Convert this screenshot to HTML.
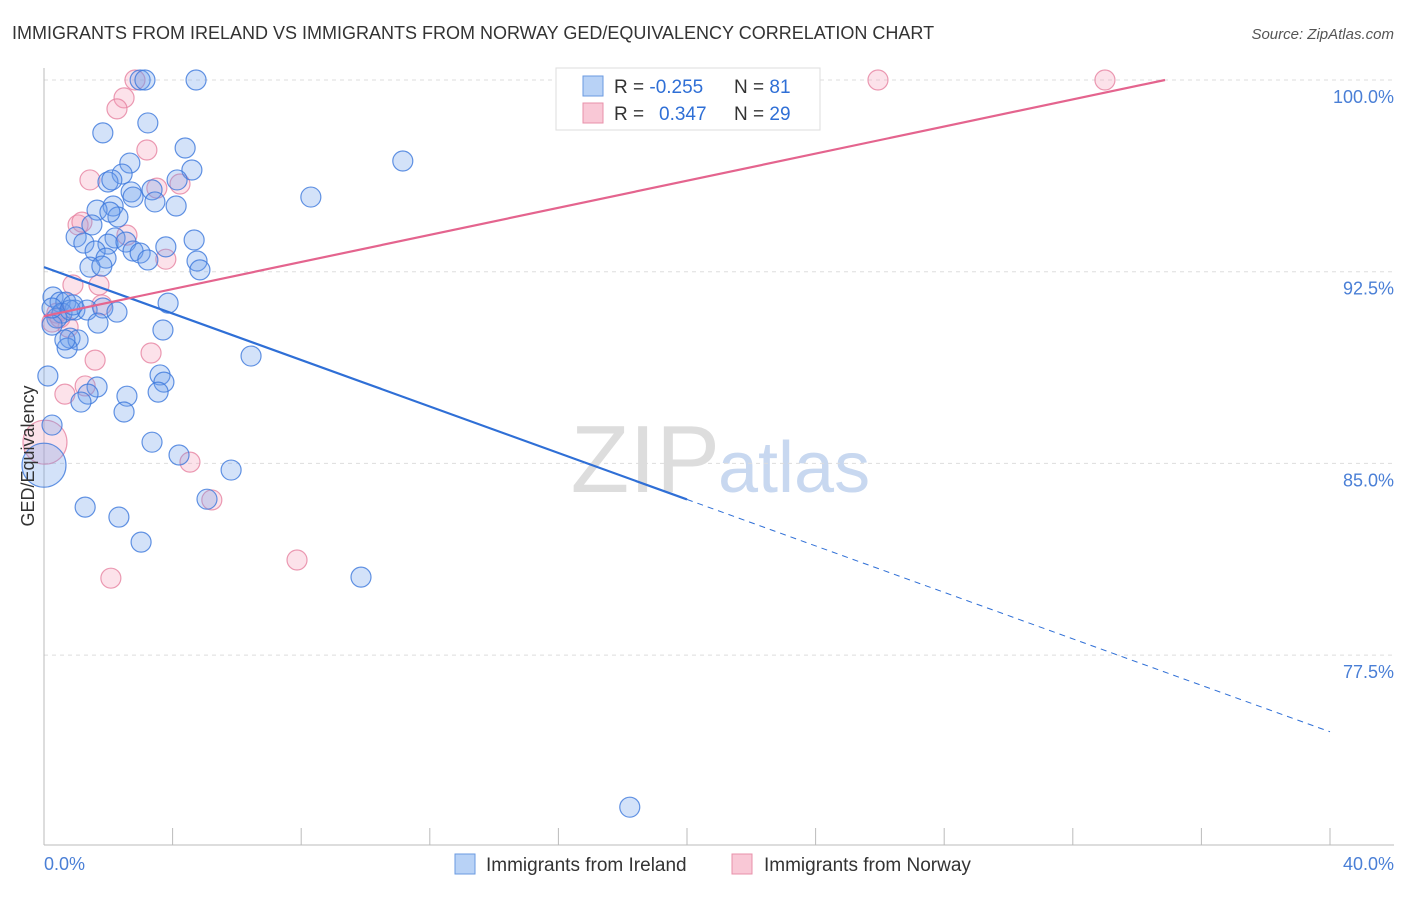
<!DOCTYPE html>
<html><head><meta charset="utf-8"><style>
body{margin:0;background:#fff;font-family:"Liberation Sans",sans-serif;}
svg text{font-family:"Liberation Sans",sans-serif;}
</style></head><body>
<svg id="c" width="1406" height="892">
<text x="12" y="39" font-size="18" fill="#333">IMMIGRANTS FROM IRELAND VS IMMIGRANTS FROM NORWAY GED/EQUIVALENCY CORRELATION CHART</text>
<text x="1394" y="39" font-size="15" fill="#555" font-style="italic" text-anchor="end">Source: ZipAtlas.com</text>
<text x="720" y="492" font-size="96" fill="#ddd" text-anchor="end" font-family="Liberation Serif">ZIP</text>
<text x="718" y="492" font-size="72" fill="#c8d8f0">atlas</text>
<g id="grid"></g>
<g id="axes"></g>
<g id="pts"></g>
<g id="lines"></g>
<text x="34" y="456" font-size="18" fill="#333" transform="rotate(-90 34 456)" text-anchor="middle">GED/Equivalency</text>
<text x="44" y="870" font-size="18" fill="#4a7fd6">0.0%</text>
<text x="1394" y="870" font-size="18" fill="#4a7fd6" text-anchor="end">40.0%</text>
<g>
<rect x="556" y="68" width="264" height="62" fill="#fff" stroke="#ddd"/>
<rect x="583" y="76" width="20" height="20" fill="#b8d2f6" stroke="#6a9ae0"/>
<rect x="583" y="103" width="20" height="20" fill="#f9c8d6" stroke="#e890aa"/>
<text x="614" y="93" font-size="19" fill="#333">R = <tspan fill="#2f6fd6">-0.255</tspan><tspan x="734">N = </tspan><tspan fill="#2f6fd6">81</tspan></text>
<text x="614" y="120" font-size="19" fill="#333">R = <tspan fill="#2f6fd6" x="659">0.347</tspan><tspan x="734">N = </tspan><tspan fill="#2f6fd6">29</tspan></text>
</g>
<g>
<rect x="455" y="854" width="20" height="20" fill="#b8d2f6" stroke="#6a9ae0"/>
<text x="486" y="871" font-size="19" fill="#333">Immigrants from Ireland</text>
<rect x="732" y="854" width="20" height="20" fill="#f9c8d6" stroke="#e890aa"/>
<text x="764" y="871" font-size="19" fill="#333">Immigrants from Norway</text>
</g>
</svg>
<script>
const yTicks=[100,92.5,85,77.5];
const yTickLabels=["100.0%","92.5%","85.0%","77.5%"];
const xTicks=[0,4,8,12,16,20,24,28,32,36,40];
const blueX=[2.99,3.14,4.73,3.23,1.83,4.39,2.67,11.16,2.43,4.60,1.99,2.11,4.14,2.71,3.36,2.77,3.45,8.30,4.11,2.15,1.65,2.30,1.49,1.00,2.21,1.24,1.99,2.55,2.77,1.59,2.99,3.79,4.67,1.93,3.23,1.43,1.80,4.76,4.85,0.28,0.50,0.68,0.96,1.34,1.83,2.27,3.86,0.56,0.40,1.68,3.70,0.25,0.81,1.06,0.72,6.44,0.12,3.61,3.73,1.65,1.37,1.15,3.55,2.58,2.49,0.25,3.36,4.20,5.82,5.07,1.28,2.33,3.02,9.86,18.22,0,0.25,0.81,0.65,2.05,0.9];
const blueY=[100,100,100,98.32,97.93,97.34,96.75,96.83,96.32,96.48,96.01,96.09,96.09,95.62,95.70,95.42,95.23,95.42,95.07,95.07,94.91,94.64,94.33,93.86,93.82,93.62,93.58,93.66,93.31,93.31,93.23,93.47,93.74,93.03,92.96,92.68,92.72,92.92,92.57,91.51,91.31,91.31,91.00,91.00,91.08,90.92,91.27,90.88,90.69,90.49,90.22,90.41,89.90,89.83,89.51,89.20,88.42,88.46,88.18,87.99,87.71,87.40,87.79,87.63,87.01,86.50,85.83,85.33,84.74,83.60,83.29,82.90,81.92,80.55,71.55,84.93,91.08,91.00,89.83,94.83,91.2];
const pinkX=[2.83,25.94,33.0,2.49,2.27,3.20,1.43,3.51,4.23,1.06,1.18,2.58,3.79,0.90,1.71,1.80,0.75,0.40,0.25,1.59,3.33,1.28,0.65,4.54,5.22,7.87,2.08,0.03,0.5];
const pinkY=[100,100,100,99.30,98.87,97.26,96.09,95.77,95.93,94.33,94.44,93.93,92.99,91.98,91.98,91.20,90.33,90.88,90.53,89.04,89.32,88.03,87.71,85.05,83.57,81.22,80.51,85.83,90.7];
const blueLine=[92.68,-0.4545];
const pinkLine=[90.76,0.265];
const NS="http://www.w3.org/2000/svg";
const X=v=>44+v/40*1286;
const Y=v=>80+(100-v)/7.5*191.7;
function mk(t,a,p){const e=document.createElementNS(NS,t);for(const k in a)e.setAttribute(k,a[k]);document.getElementById(p).appendChild(e);return e;}
yTicks.forEach((t,i)=>{
 const l=mk('line',{x1:44,x2:1394,y1:Y(t),y2:Y(t),stroke:'#ddd','stroke-dasharray':'4,4'},'grid');
 
 
 const tx=mk('text',{x:1394,y:Y(t)+23,'font-size':18,fill:'#4a7fd6','text-anchor':'end'},'grid');
 tx.textContent=yTickLabels[i];
 
 
});
const ax=mk('line',{x1:44,x2:44,y1:68,y2:845,stroke:'#bbb'},'axes');


const bx=mk('line',{x1:44,x2:1394,y1:845,y2:845,stroke:'#bbb'},'axes');


xTicks.forEach(t=>{
 const l=mk('line',{x1:X(t),x2:X(t),y1:828,y2:845,stroke:'#bbb'},'axes');
 
 
});
function dots(xs,ys,fill,stroke,name){
 xs.forEach((x,i)=>{
  const big=(x===0||x===0.03);
  const c=mk('circle',{cx:X(x),cy:Y(ys[i]),r:big?22:10,fill:fill,stroke:stroke,'stroke-width':1.2},'pts');
  
  
 });
}
dots(pinkX,pinkY,'rgba(245,160,185,0.3)','rgba(230,130,160,0.8)','norway-point');
dots(blueX,blueY,'rgba(110,160,235,0.3)','rgba(60,120,220,0.8)','ireland-point');
const f=(L,x)=>L[0]+L[1]*x;
const b1=mk('line',{x1:X(0),y1:Y(f(blueLine,0)),x2:X(20),y2:Y(f(blueLine,20)),stroke:'#2f6fd6','stroke-width':2.2},'lines');


const b2=mk('line',{x1:X(20),y1:Y(f(blueLine,20)),x2:X(40),y2:Y(f(blueLine,40)),stroke:'#2f6fd6','stroke-width':1,'stroke-dasharray':'6,5'},'lines');


const xe=(100-pinkLine[0])/pinkLine[1];
const p1=mk('line',{x1:X(0),y1:Y(f(pinkLine,0)),x2:X(xe),y2:Y(100),stroke:'#e4648e','stroke-width':2.2},'lines');


</script>
</body></html>
